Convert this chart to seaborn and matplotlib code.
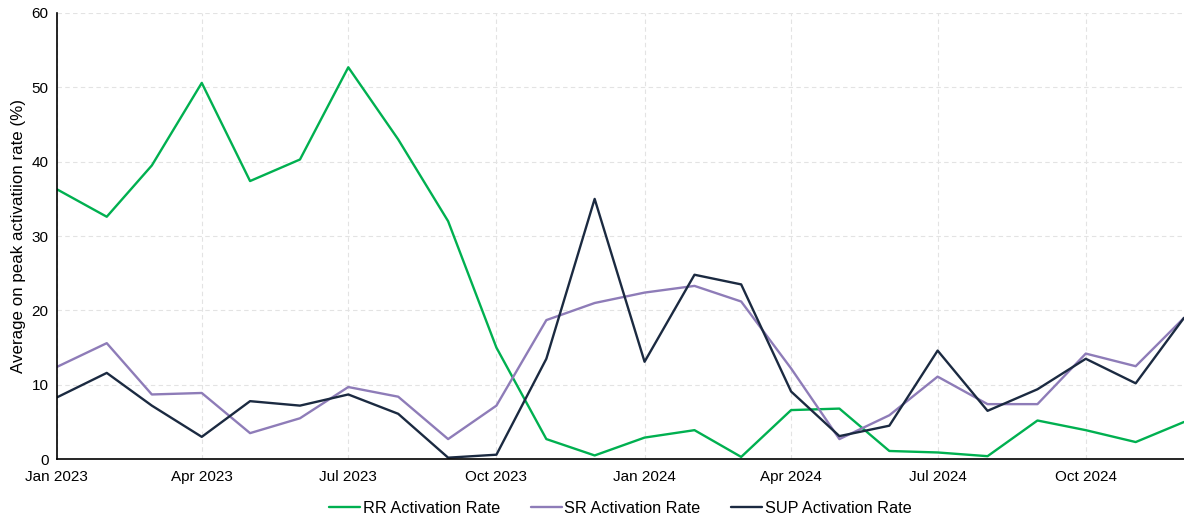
import matplotlib
matplotlib.use("Agg")
import matplotlib.pyplot as plt
import matplotlib.dates as mdates
import numpy as np
import pandas as pd
import seaborn as sns

# monthly data, Jan 2023 .. Dec 2024
months = pd.date_range("2023-01-01", "2024-12-01", freq="MS")

rr_rate = [36.3, 32.6, 39.5, 50.6, 37.4, 40.3, 52.7, 43.0, 32.0, 15.0, 2.7, 0.5,
           2.9, 3.9, 0.3, 6.6, 6.8, 1.1, 0.9, 0.4, 5.2, 3.9, 2.3, 5.0]
sr_rate = [12.4, 15.6, 8.7, 8.9, 3.5, 5.5, 9.7, 8.4, 2.7, 7.2, 18.7, 21.0,
           22.4, 23.3, 21.2, 12.2, 2.7, 5.9, 11.1, 7.4, 7.4, 14.2, 12.5, 19.0]
sup_rate = [8.3, 11.6, 7.2, 3.0, 7.8, 7.2, 8.7, 6.1, 0.2, 0.6, 13.5, 35.0,
            13.1, 24.8, 23.5, 9.1, 3.1, 4.5, 14.6, 6.5, 9.4, 13.5, 10.2, 19.0]

series_names = ["RR Activation Rate", "SR Activation Rate", "SUP Activation Rate"]
colors = ["#00B050", "#8E7CB8", "#1B2A41"]

df = pd.DataFrame({
    "month": np.tile(months, 3),
    "value": rr_rate + sr_rate + sup_rate,
    "series": np.repeat(series_names, len(months)),
})

sns.set_style("white")
plt.rcParams['font.family'] = ['Liberation Sans', 'DejaVu Sans']
plt.rcParams['text.color'] = 'black'

fig = plt.figure(figsize=(11.84, 5.2), dpi=100)
ax = fig.add_axes([0.048, 0.117, 0.952, 0.858])

sns.lineplot(data=df, x="month", y="value", hue="series",
             palette=dict(zip(series_names, colors)), linewidth=1.7, ax=ax)

ax.set_xlim(months[0], months[-1])
ax.set_ylim(0, 60)
ax.set_yticks(range(0, 61, 10))
ax.xaxis.set_major_locator(mdates.MonthLocator(bymonth=[1, 4, 7, 10]))
ax.xaxis.set_major_formatter(mdates.DateFormatter("%b %Y"))

ax.grid(True, linestyle=(0, (4, 3)), color="#e3e3e3", linewidth=0.8)
for s in ["top", "right"]:
    ax.spines[s].set_visible(False)
for s in ["left", "bottom"]:
    ax.spines[s].set_color("black")
    ax.spines[s].set_linewidth(1.2)

ax.tick_params(axis="x", length=4, width=1, color="black", labelcolor="black",
               labelsize=11, pad=4)
ax.tick_params(axis="y", length=0, labelcolor="black", labelsize=11, pad=6)

ax.set_xlabel("")
ax.set_ylabel("Average on peak activatiion rate (%)", fontsize=12.2,
              color="black", labelpad=4)

ax.legend(loc="center", bbox_to_anchor=(0.5, -0.11), ncol=3,
          frameon=False, fontsize=11.7, handlelength=1.9, handletextpad=0.15,
          columnspacing=1.9)

plt.savefig("out.png", dpi=100)
